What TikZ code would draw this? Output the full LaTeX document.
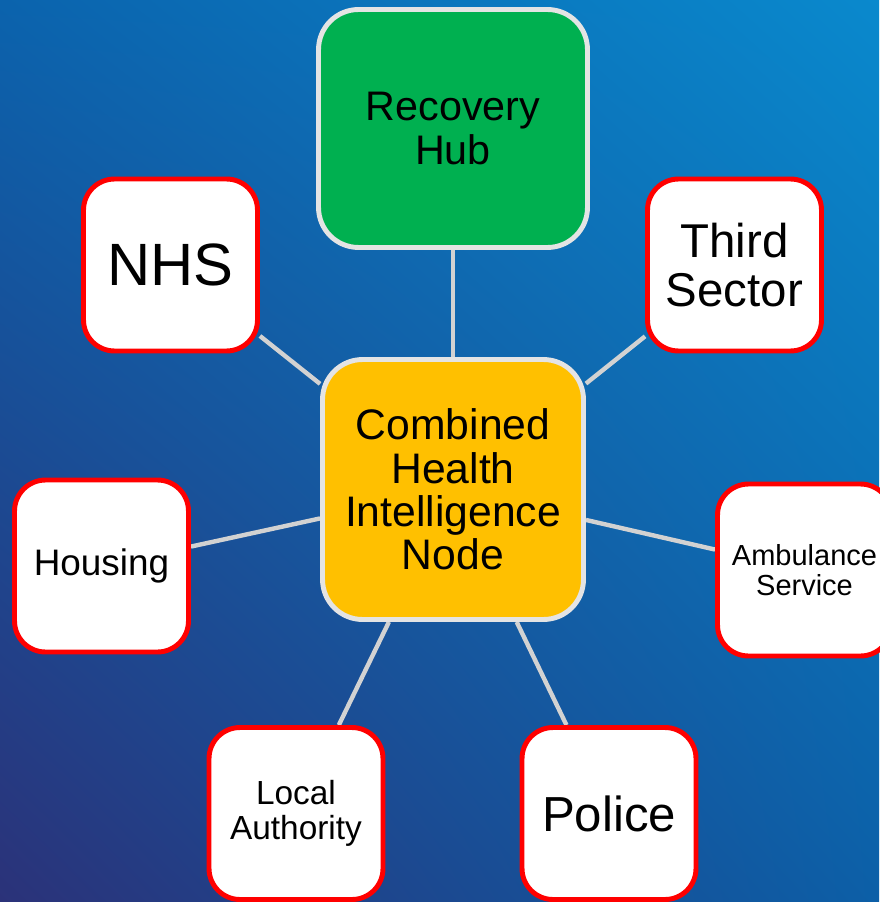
\documentclass[tikz,border=0pt]{standalone}
\usepackage{fontspec}
\setmainfont{Liberation Sans}
\usetikzlibrary{backgrounds,shadings}
\definecolor{hubgreen}{HTML}{00B050}
\definecolor{coreyellow}{HTML}{FFC000}
\definecolor{boxred}{HTML}{FF0000}
\definecolor{rimgrey}{HTML}{E4E4E4}
\definecolor{linkgrey}{HTML}{D2D2D2}
\definecolor{bgul}{HTML}{0B63AD}
\definecolor{bgur}{HTML}{0A89CD}
\definecolor{bgll}{HTML}{2B3279}
\definecolor{bglr}{HTML}{0C5FA7}
\tikzset{
  partner/.style={draw=boxred, fill=white, line width=2.8pt, rounded corners=0.62cm,
    minimum width=3.48cm, minimum height=3.44cm, align=center, inner sep=0pt},
  core/.style={draw=rimgrey, line width=2.8pt, rounded corners=0.8cm,
    align=center, inner sep=0pt},
  link/.style={draw=linkgrey, line width=2.5pt}
}
\begin{document}
\begin{tikzpicture}[x=0.02cm, y=-0.02cm]
      \useasboundingbox (0,0) rectangle (879,902);
      \draw
        (453,128.5) node[core, fill=hubgreen, minimum width=5.38cm, minimum height=4.76cm,
          font=\fontsize{23.5}{25}\selectfont] (hub){Recovery\\Hub}
        (453,489.5) node[core, fill=coreyellow, minimum width=5.22cm, minimum height=5.2cm,
          font=\fontsize{24.3}{24.7}\selectfont] (chin){Combined\\Health\\Intelligence\\Node}
        (170.5,265) node[partner, font=\fontsize{34}{36}\selectfont] (nhs){NHS}
        (734.5,265) node[partner, font=\fontsize{27}{28}\selectfont] (third){Third\\Sector}
        (101.5,566) node[partner, font=\fontsize{21}{23}\selectfont] (housing){Housing}
        (804.5,570) node[partner, font=\fontsize{16.5}{17}\selectfont] (ambulance){Ambulance\\Service}
        (296,813.5) node[partner, font=\fontsize{19}{20}\selectfont] (local){Local\\Authority}
        (609,813.5) node[partner, font=\fontsize{28}{30}\selectfont] (police){Police};
      \begin{scope}[on background layer]
        \shade[upper left=bgul, upper right=bgur, lower left=bgll, lower right=bglr]
          (0,0) rectangle (879,902);
        \draw[link] (chin) to (hub);
        \draw[link] (chin) to (nhs);
        \draw[link] (chin) to (third);
        \draw[link] (chin) to (housing);
        \draw[link] (chin) to (ambulance);
        \draw[link] (chin) to (local);
        \draw[link] (chin) to (police);
      \end{scope}
    \end{tikzpicture}
\end{document}
